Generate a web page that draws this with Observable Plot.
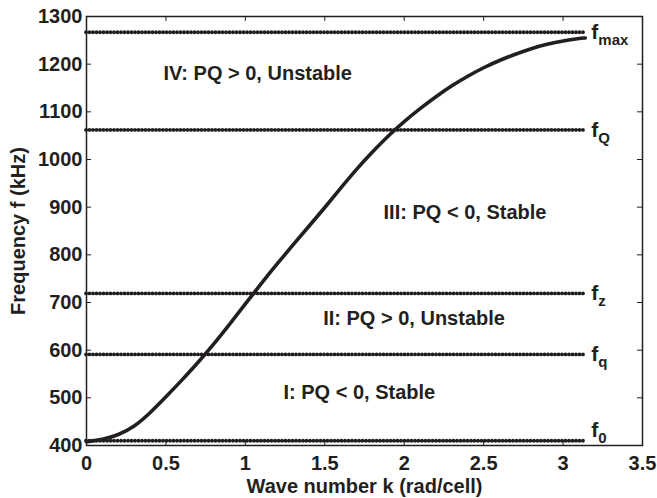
<!DOCTYPE html>
<html>
<head>
<meta charset="utf-8">
<script src="https://cdn.jsdelivr.net/npm/d3@7"></script>
<script src="https://cdn.jsdelivr.net/npm/@observablehq/plot@0.6"></script>
<style>
  html, body { margin: 0; padding: 0; background: #fff; }
  #chart { width: 657px; height: 498px; }
</style>
</head>
<body>
<div id="chart"></div>
<script>
// Dispersion curve: wave number k (rad/cell) vs frequency f (kHz)
const kValues = [0, 0.1, 0.2, 0.3, 0.4, 0.5, 0.6, 0.7, 0.8, 0.9, 1.0, 1.1, 1.2, 1.3, 1.4, 1.5, 1.6, 1.7, 1.8, 1.9, 2.0, 2.1, 2.2, 2.3, 2.4, 2.5, 2.6, 2.7, 2.8, 2.9, 3.0, 3.1, 3.14];
const fValues = [408, 412, 422, 439, 468, 502, 537, 573, 612, 654, 697, 740, 781, 821, 860, 899, 940, 980, 1016, 1050, 1080, 1107, 1132, 1155, 1175, 1193, 1208, 1221, 1233, 1242, 1249, 1254, 1255];

// Characteristic frequency levels (dotted lines)
const levelNames = ["max", "Q", "z", "q", "0"];
const levelValues = [1267, 1062, 719, 591, 410];
const levelLabelF = [1267, 1062, 719, 591, 433];
const kEnd = 3.14;

// Region annotations
const regionText = ["IV: PQ > 0, Unstable", "III: PQ < 0, Stable", "II: PQ > 0, Unstable", "I: PQ < 0, Stable"];
const regionK = [0.485, 1.87, 1.49, 1.24];
const regionF = [1180, 889, 666, 511];

// Ticks
const xTicks = [0, 0.5, 1, 1.5, 2, 2.5, 3, 3.5];
const yTicks = [400, 500, 600, 700, 800, 900, 1000, 1100, 1200, 1300];

const curve = kValues.map((k, i) => ({k, f: fValues[i]}));
const levels = levelValues.map((f, i) => ({name: levelNames[i], f, lf: levelLabelF[i]}));
const regions = regionText.map((t, i) => ({t, k: regionK[i], f: regionF[i]}));

const W = 657, H = 498;
const mL = 86, mR = 15, mT = 16, mB = 53;
const frameW = W - mL - mR, frameH = H - mT - mB;
const ink = "#231f20";
const tick = 5;

const chart = Plot.plot({
  width: W,
  height: H,
  marginLeft: mL,
  marginRight: mR,
  marginTop: mT,
  marginBottom: mB,
  style: {fontFamily: "'Liberation Sans', Arial, Helvetica, sans-serif", fontSize: "20px", fontWeight: "bold", color: ink, background: "#fff"},
  x: {domain: [0, 3.5], label: null},
  y: {domain: [400, 1300], label: null},
  marks: [
    // dotted level lines
    Plot.ruleY(levels, {y: "f", x1: () => 0, x2: () => kEnd, stroke: ink, strokeWidth: 3.8, strokeDasharray: "0 3.5", strokeLinecap: "round"}),
    // dispersion curve
    Plot.line(curve, {x: "k", y: "f", stroke: ink, strokeWidth: 3.6, curve: "basis"}),
    // frame
    Plot.frame({stroke: ink, strokeWidth: 1.5}),
    // inward ticks (bottom, top, left, right)
    Plot.tickX(xTicks, {x: d => d, stroke: ink, strokeWidth: 1, insetTop: frameH - tick}),
    Plot.tickX(xTicks, {x: d => d, stroke: ink, strokeWidth: 1, insetBottom: frameH - tick}),
    Plot.tickY(yTicks, {y: d => d, stroke: ink, strokeWidth: 1, insetRight: frameW - tick}),
    Plot.tickY(yTicks, {y: d => d, stroke: ink, strokeWidth: 1, insetLeft: frameW - tick}),
    // tick labels
    Plot.axisX(xTicks, {anchor: "bottom", tickSize: 0, tickPadding: 10, fill: ink, tickFormat: d => String(d), label: "Wave number k (rad/cell)", labelAnchor: "center", labelOffset: 47, labelArrow: "none"}),
    Plot.axisY(yTicks, {anchor: "left", tickSize: 0, tickPadding: 4, fill: ink, tickFormat: d => String(d), label: "Frequency f (kHz)", labelAnchor: "center", labelOffset: 76, labelArrow: "none"}),
    // region labels
    Plot.text(regions, {x: "k", y: "f", text: "t", textAnchor: "start", fill: ink, fontSize: 20, fontWeight: "bold"}),
    // level labels f_sub
    Plot.text(levels, {x: () => kEnd, y: "lf", text: () => "f", textAnchor: "start", dx: 6, fill: ink, fontSize: 21, fontWeight: "bold"}),
    Plot.text(levels, {x: () => kEnd, y: "lf", text: "name", textAnchor: "start", dx: 13, dy: 8, fill: ink, fontSize: 15, fontWeight: "bold"})
  ]
});

document.getElementById("chart").appendChild(chart);
</script>
</body>
</html>
